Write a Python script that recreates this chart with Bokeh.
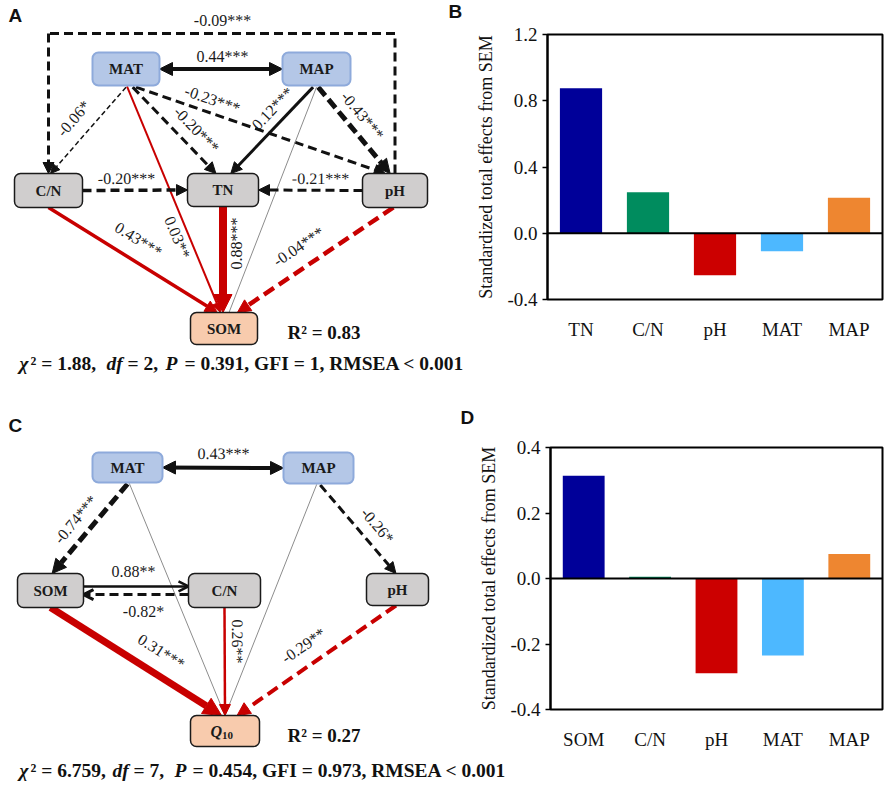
import math
from bokeh.plotting import figure
from bokeh.models import (Range1d, Arrow, NormalHead, OpenHead, Span,
                          FixedTicker, PrintfTickFormatter, FactorRange, ColumnDataSource)
from bokeh.layouts import column, row
from bokeh.core.properties import value
from bokeh.embed import file_html
from bokeh.resources import INLINE

SERIF = "Liberation Serif"
SANS = "Liberation Sans"
RED = "#C80000"
BLACK = "#111111"
GRAY = "#8C8C8C"

# ---------------- data ----------------
B_FACTORS = ["TN", "C/N", "pH", "MAT", "MAP"]
B_EFFECTS = [0.875, 0.247, -0.253, -0.109, 0.215]
B_TICKS = [-0.4, 0.0, 0.4, 0.8, 1.2]

D_FACTORS = ["SOM", "C/N", "pH", "MAT", "MAP"]
D_EFFECTS = [0.314, 0.005, -0.289, -0.235, 0.075]
D_TICKS = [-0.4, -0.2, 0.0, 0.2, 0.4]

BAR_COLORS = ["#000099", "#008C5E", "#CC0000", "#4DB8FF", "#EE8630"]
Y_LABEL = "Standardized total effects from SEM"

# SEM A (response SOM)
A_FROM = ["MAT", "pH", "MAT", "MAT", "MAT", "MAT", "MAP", "MAP", "MAP", "C/N", "pH", "C/N", "TN", "pH"]
A_TO = ["MAP", "C/N", "C/N", "TN", "pH", "SOM", "TN", "pH", "SOM", "TN", "TN", "SOM", "SOM", "SOM"]
A_COEF = [0.44, -0.09, -0.06, -0.20, -0.23, 0.03, 0.12, -0.43, None, -0.20, -0.21, 0.43, 0.88, -0.04]
A_SIG = ["***", "***", "*", "***", "***", "**", "***", "***", "", "***", "***", "***", "***", "***"]
A_R2 = 0.83
A_FIT = ["1.88", "2", "0.391", "1", "< 0.001"]

# SEM C (response Q10)
C_FROM = ["MAT", "MAT", "MAT", "MAP", "MAP", "SOM", "C/N", "SOM", "C/N", "pH"]
C_TO = ["MAP", "SOM", "Q10", "Q10", "pH", "C/N", "SOM", "Q10", "Q10", "Q10"]
C_COEF = [0.43, -0.74, None, None, -0.26, 0.88, -0.82, 0.31, 0.26, -0.29]
C_SIG = ["***", "***", "", "", "*", "**", "*", "***", "**", "**"]
C_R2 = 0.27
C_FIT = ["6.759", "7", "0.454", "0.973", "< 0.001"]

# ---------------- layout (page pixel coordinates) ----------------
NODES_A = {"MAT": (125.5, 68.5, 67, 33, "clim"), "MAP": (316, 68.5, 68, 33, "clim"),
           "C/N": (48, 190, 68, 34, "soil"), "TN": (222.5, 189.5, 71, 33, "soil"),
           "pH": (394.5, 190, 65, 34, "soil"), "SOM": (223.5, 328, 67, 32, "resp")}
NODES_C = {"MAT": (127, 467, 70, 30, "clim"), "MAP": (318, 467.5, 70, 31, "clim"),
           "SOM": (50, 590, 66, 34, "soil"), "C/N": (224, 590, 72, 34, "soil"),
           "pH": (397, 589, 62, 32, "soil"), "Q10": (224.5, 730.5, 69, 31, "resp")}

A_ANCH = [(1, 0, -1, 0), (0, -1, 0, -1), (0, 1.1, 0.06, -1), (0.2, 1.1, -0.2, -1),
          (0.3, 1.1, -0.3, -1), (0.03, 1.05, -0.1, -1), (-0.1, 1.1, 0.22, -1),
          (0.05, 1.1, -0.15, -1), (0, 1.1, 0.15, -1), (1, 0, -1, 0), (-1, 0, 1, 0),
          (0, 1, -0.2, -1), (0, 1, -0.03, -1), (-0.05, 1, 0.4, -1)]
A_STY = [(4, "solid", BLACK, "double", 13), (3, "9 5", BLACK, "loop", 11),
         (1.5, "5 3", BLACK, "normal", 9), (3, "9 5", BLACK, "normal", 11),
         (3, "9 5", BLACK, "normal", 11), (2, "solid", RED, "normal", 10),
         (3, "solid", BLACK, "normal", 11), (5, "11 5", BLACK, "normal", 14),
         (1, "solid", GRAY, "none", 0), (3.5, "9 5", BLACK, "normal", 11),
         (3, "9 5", BLACK, "normal", 11), (3.5, "solid", RED, "normal", 12),
         (8, "solid", RED, "normal", 18), (4.5, "12 6", RED, "normal", 13)]
A_LPOS = [(222, 56), (222, 20), (73, 118), (196, 129), (212, 99), (177, 237), (272, 108),
          (362, 115), None, (126, 178), (320, 178), (138, 239), (236, 243), (298, 246)]
A_LOOP_Y = 33

C_ANCH = [(1, 0, -1, 0), (0, 1.1, 0.05, -1), (0.05, 1.05, 0, -1), (-0.05, 1.05, 0, -1),
          (0.05, 1.1, -0.05, -1), (1, -0.24, -1, -0.24), (-1, 0.24, 1, 0.24),
          (0, 1, -0.1, -1), (0, 1, 0, -1), (-0.05, 1, 0.35, -1)]
C_STY = [(4, "solid", BLACK, "double", 13), (5, "11 5", BLACK, "normal", 14),
         (1, "solid", GRAY, "none", 0), (1, "solid", GRAY, "none", 0),
         (3, "9 5", BLACK, "normal", 11), (2.5, "solid", BLACK, "open", 10),
         (3, "9 5", BLACK, "open", 10), (7, "solid", RED, "normal", 18),
         (2.5, "solid", RED, "normal", 11), (4, "12 6", RED, "normal", 13)]
C_LPOS = [(223, 453), (75, 519), None, None, (377, 525), (133, 571), (143, 611),
          (161, 651), (237, 641), (303, 645)]

NODE_STYLE = {"clim": ("#B4C7E7", "#8EAADB", 2),
              "soil": ("#D0CECE", "#1a1a1a", 1.5),
              "resp": ("#F8CBAD", "#1a1a1a", 1.5)}


def blank(w, h, x0, x1, y0, y1):
    p = figure(width=w, height=h, x_range=Range1d(x0, x1), y_range=Range1d(y1, y0),
               x_axis_type=None, y_axis_type=None, output_backend="svg",
               toolbar_location=None, min_border=0)
    p.frame_align = False
    p.outline_line_color = None
    p.background_fill_color = "white"
    return p


def letter(p, x, y, t):
    p.text(x=[x], y=[y], text=[t], text_baseline="middle", text_align="left",
           text_font=value(SANS), text_font_style="bold", text_font_size="19px",
           text_color="#111111")


def pt(nodes, name, fx, fy):
    cx, cy, w, h, _ = nodes[name]
    return cx + fx * w / 2, cy + fy * h / 2


def draw_sem(p, nodes, frm, to, coef, sig, anch, sty, lpos, loop_y=None):
    lx, ly, lt, la = [], [], [], []
    for i in range(len(frm)):
        fxs, fys, fxd, fyd = anch[i]
        x0, y0 = pt(nodes, frm[i], fxs, fys)
        x1, y1 = pt(nodes, to[i], fxd, fyd)
        wid, dash, col, kind, hs = sty[i]
        ang = math.atan2(-(y1 - y0), x1 - x0)
        if kind == "loop":
            p.line([x0, x0, x1], [y0, loop_y, loop_y], line_width=wid, line_dash=dash,
                   line_color=col, line_join="miter")
            x0, y0 = x1, loop_y
            ang = 0.0
        if ang > math.pi / 2 + 1e-9:
            ang -= math.pi
        elif ang < -math.pi / 2 - 1e-9:
            ang += math.pi
        kw = dict(x_start=x0, y_start=y0, x_end=x1, y_end=y1, line_width=wid,
                  line_color=col, line_dash=dash, level="underlay")
        if kind in ("normal", "loop"):
            kw["end"] = NormalHead(size=hs, fill_color=col, line_color=col, line_width=1)
        elif kind == "double":
            kw["end"] = NormalHead(size=hs, fill_color=col, line_color=col, line_width=1)
            kw["start"] = NormalHead(size=hs, fill_color=col, line_color=col, line_width=1)
        elif kind == "open":
            kw["end"] = OpenHead(size=hs, line_color=col, line_width=wid)
        else:
            kw["end"] = None
        p.add_layout(Arrow(**kw))
        if coef[i] is not None and lpos[i] is not None:
            lx.append(lpos[i][0]); ly.append(lpos[i][1])
            lt.append(f"{coef[i]:.2f}{sig[i]}"); la.append(ang)
    p.text(x="x", y="y", text="t", angle="a",
           source=ColumnDataSource(dict(x=lx, y=ly, t=lt, a=la)),
           text_align="center", text_baseline="middle", text_font=value(SERIF),
           text_font_size="16px", text_color="#1a1a1a")
    # boxes
    for style, (fc, lc, lw) in NODE_STYLE.items():
        names = [n for n in nodes if nodes[n][4] == style]
        if not names:
            continue
        p.quad(left=[nodes[n][0] - nodes[n][2] / 2 for n in names],
               right=[nodes[n][0] + nodes[n][2] / 2 for n in names],
               top=[nodes[n][1] - nodes[n][3] / 2 for n in names],
               bottom=[nodes[n][1] + nodes[n][3] / 2 for n in names],
               fill_color=fc, line_color=lc, line_width=lw, border_radius=6)
    names = [n for n in nodes if n != "Q10"]
    p.text(x=[nodes[n][0] for n in names], y=[nodes[n][1] for n in names], text=names,
           text_align="center", text_baseline="middle", text_font=value(SERIF),
           text_font_style="bold", text_font_size="15px", text_color="#1a1a1a")
    if "Q10" in nodes:
        cx, cy = nodes["Q10"][0], nodes["Q10"][1]
        p.text(x=[cx - 3], y=[cy], text=["Q"], text_align="right", text_baseline="middle",
               text_font=value(SERIF), text_font_style="bold italic", text_font_size="16px",
               text_color="#1a1a1a")
        p.text(x=[cx - 3], y=[cy + 4], text=["10"], text_align="left", text_baseline="middle",
               text_font=value(SERIF), text_font_style="bold", text_font_size="11px",
               text_color="#1a1a1a")


def fit_strip(h, y0, y1, yc, fit, xs):
    p = blank(886, h, 0, 886, y0, y1)
    pieces = [("\u03c7", "bold italic"), (f"\u00b2 = {fit[0]},", "bold"), ("df", "bold italic"),
              (f"= {fit[1]},", "bold"), ("P", "bold italic"),
              (f"= {fit[2]},  GFI = {fit[3]},  RMSEA {fit[4]}", "bold")]
    for (txt, st), x in zip(pieces, xs):
        p.text(x=[x], y=[yc], text=[txt], text_align="left", text_baseline="middle",
               text_font=value(SERIF), text_font_style=st, text_font_size="19.5px",
               text_color="#111111")
    return p


def bar_fig(w, h, factors, effects, ticks, yr, bl, bt, bb):
    p = figure(width=w, height=h, x_range=FactorRange(*factors, range_padding=0),
               y_range=Range1d(*yr), output_backend="svg", toolbar_location=None,
               min_border_left=bl, min_border_right=4, min_border_top=bt, min_border_bottom=bb)
    p.frame_align = False
    p.vbar(x=factors, top=effects, width=0.63, fill_color=BAR_COLORS, line_color=None)
    p.add_layout(Span(location=0, dimension="width", line_color="black", line_width=2))
    p.xgrid.visible = False
    p.ygrid.visible = False
    p.outline_line_color = "black"
    p.outline_line_width = 2
    p.yaxis.ticker = FixedTicker(ticks=ticks)
    p.yaxis.formatter = PrintfTickFormatter(format="%.1f")
    p.yaxis.minor_tick_line_color = None
    p.yaxis.major_tick_out = 5
    p.yaxis.major_tick_in = 0
    p.yaxis.major_tick_line_width = 1.5
    p.yaxis.axis_line_color = "black"
    p.yaxis.axis_line_width = 2
    p.yaxis.major_label_standoff = 5
    p.yaxis.axis_label = Y_LABEL
    p.yaxis.axis_label_text_font = SERIF
    p.yaxis.axis_label_text_font_style = "normal"
    p.yaxis.axis_label_text_font_size = "18px"
    p.yaxis.axis_label_standoff = 8
    p.xaxis.major_tick_line_color = None
    p.xaxis.axis_line_color = None
    p.xaxis.major_label_standoff = 13
    for ax in (p.xaxis, p.yaxis):
        ax.major_label_text_font = SERIF
        ax.major_label_text_font_size = "19px"
        ax.major_label_text_color = "#111111"
        ax.axis_label_text_color = "#111111"
    return p


# rows (page y): 0-348, 348-380, 380-755, 755-791
pA = blank(466, 348, 0, 466, 0, 348)
draw_sem(pA, NODES_A, A_FROM, A_TO, A_COEF, A_SIG, A_ANCH, A_STY, A_LPOS, A_LOOP_Y)
letter(pA, 8, 15, "A")
letter(pA, 448, 11, "B")
pA.text(x=[287], y=[332], text=[f"R\u00b2 = {A_R2:.2f}"], text_baseline="middle",
        text_font=value(SERIF), text_font_style="bold", text_font_size="19px", text_color="#111111")

pB = bar_fig(420, 348, B_FACTORS, B_EFFECTS, B_TICKS, (-0.4, 1.2), 81, 34, 49)

stripA = fit_strip(32, 348, 380, 363, A_FIT, [19, 30, 106, 127, 165, 184])

pC = blank(476, 375, 0, 476, 380, 755)
draw_sem(pC, NODES_C, C_FROM, C_TO, C_COEF, C_SIG, C_ANCH, C_STY, C_LPOS)
letter(pC, 8, 425, "C")
letter(pC, 460, 417, "D")
pC.text(x=[287], y=[735], text=[f"R\u00b2 = {C_R2:.2f}"], text_baseline="middle",
        text_font=value(SERIF), text_font_style="bold", text_font_size="19px", text_color="#111111")

pD = bar_fig(410, 375, D_FACTORS, D_EFFECTS, D_TICKS, (-0.4, 0.4), 74, 67, 46)

stripC = fit_strip(36, 755, 791, 770, C_FIT, [19, 30, 112, 133, 174, 192])

layout = column(row(pA, pB), stripA, row(pC, pD), stripC)
open("out.html", "w").write(file_html(layout, INLINE))
